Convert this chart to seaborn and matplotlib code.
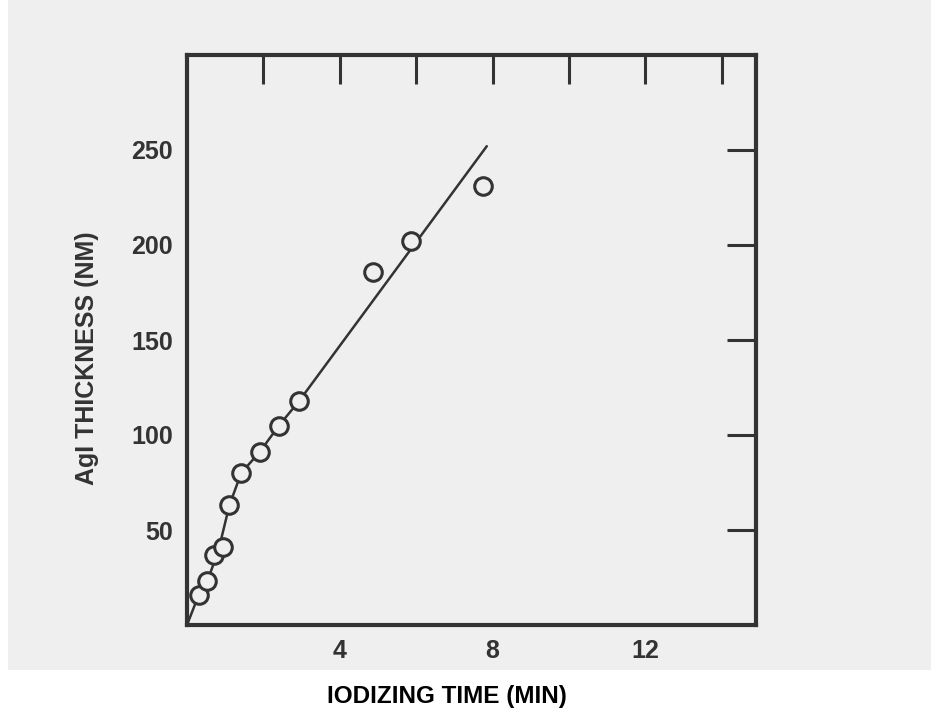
import matplotlib
matplotlib.use("Agg")
import matplotlib.pyplot as plt
import seaborn as sns
import pandas as pd
from matplotlib.patches import Rectangle

# measured points (iodizing time in min, AgI thickness in nm)
time_pts = [0.31, 0.53, 0.70, 0.95, 1.11, 1.42, 1.90, 2.41, 2.94, 4.87, 5.86, 7.76]
thick_pts = [16, 23, 37, 41, 63, 80, 91, 105, 118, 186, 202, 231]

# hand drawn curve through the points
time_line = [0, 0.31, 0.53, 0.82, 1.11, 1.42, 1.90, 2.41, 2.94, 7.85]
thick_line = [0, 16, 23, 39, 63, 80, 91, 105, 118, 252]

x_major = [4, 8, 12]
x_minor = [2, 6, 10, 14]
y_ticks = [50, 100, 150, 200, 250]

pts = pd.DataFrame({"t": time_pts, "d": thick_pts})
crv = pd.DataFrame({"t": time_line, "d": thick_line})

sns.set_style("white")
plt.rcParams["font.family"] = ["Liberation Sans", "DejaVu Sans"]
ink = "#333333"

fig = plt.figure(figsize=(9.31, 7.09), dpi=100)
fig.patch.set_facecolor("white")
# scanned page tone
fig.patches.append(Rectangle((8 / 931, 39 / 709), 1, 1, transform=fig.transFigure,
                             facecolor="#efefef", edgecolor="none", zorder=-10))

ax = fig.add_axes([187 / 931, 1 - 625 / 709, (756 - 187) / 931, (625 - 55) / 709])
ax.set_facecolor("none")

sns.lineplot(data=crv, x="t", y="d", ax=ax, color=ink, linewidth=1.8, sort=False, zorder=2)
sns.scatterplot(data=pts, x="t", y="d", ax=ax, s=160, marker="o", facecolor="#efefef",
                edgecolor=ink, linewidth=2.2, zorder=3)

ax.set_xlim(0, 14.9)
ax.set_ylim(0, 300)
ax.set_xticks(x_major)
ax.set_xticks(x_minor, minor=True)
ax.set_yticks(y_ticks)
ax.set_xticklabels([str(v) for v in x_major])
ax.set_yticklabels([str(v) for v in y_ticks])

for s in ax.spines.values():
    s.set_visible(True)
    s.set_color(ink)
    s.set_linewidth(3)

ax.tick_params(axis="both", which="both", direction="in", length=21, width=2.2,
               color=ink, top=True, right=True, labelcolor=ink)
ax.tick_params(axis="x", which="both", pad=10, labelsize=18)
ax.tick_params(axis="y", which="both", pad=10, labelsize=18)
for lab in ax.get_xticklabels() + ax.get_yticklabels():
    lab.set_fontweight("bold")

ax.set_xlabel("")
ax.set_ylabel("")
fig.text(447 / 931, 1 - 697 / 709, "IODIZING TIME (MIN)", ha="center", va="center",
         fontsize=17.5, fontweight="bold", color="black")
fig.text(87 / 931, 1 - 358 / 709, "AgI THICKNESS (NM)", ha="center", va="center",
         rotation=90, fontsize=18, fontweight="bold", color=ink)

fig.savefig("out.png", dpi=100)
